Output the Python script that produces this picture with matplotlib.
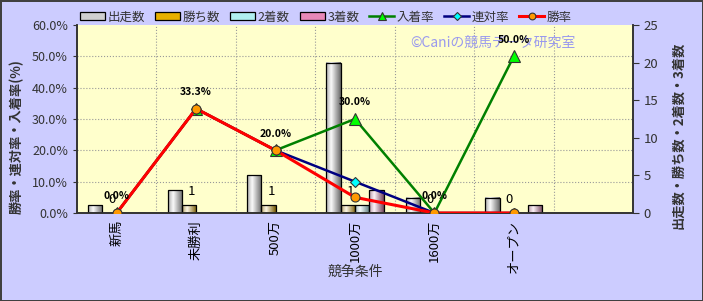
import numpy as np
import matplotlib
matplotlib.use('Agg')
import matplotlib.pyplot as plt
from matplotlib.colors import to_rgb
from matplotlib.lines import Line2D
from matplotlib.patches import Patch

plt.rcParams['font.family'] = ['Noto Sans CJK JP', 'DejaVu Sans']

# data
cats = ['新馬', '未勝利', '500万', '1000万', '1600万', 'オープン']
runs = [1, 3, 5, 20, 2, 2]
wins = [0, 1, 1, 1, 0, 0]
seconds = [0, 0, 0, 1, 0, 0]
thirds = [0, 0, 0, 3, 0, 1]
win_rate = [0.0, 33.3, 20.0, 5.0, 0.0, 0.0]
rentai_rate = [0.0, 33.3, 20.0, 10.0, 0.0, 0.0]
place_rate = [0.0, 33.3, 20.0, 30.0, 0.0, 50.0]


def shade(ax, bars, col):
    # cylinder-like horizontal gradient inside each bar
    base = np.array(to_rgb(col))
    t = np.linspace(0, 1, 64)
    k = np.clip(1 - np.abs(t - 0.35) / 0.65, 0, 1)
    dark = base * 0.5
    light = base + (1 - base) * 0.9
    grad = dark[None, :] * (1 - k[:, None]) + light[None, :] * k[:, None]
    for b in bars:
        h = b.get_height()
        if h <= 0:
            continue
        x0, y0 = b.get_xy()
        ax.imshow(grad[None, :, :], extent=[x0, x0 + b.get_width(), y0, y0 + h],
                  aspect='auto', zorder=2.5, interpolation='bilinear')


fig = plt.figure(figsize=(7.03, 3.01), dpi=100, facecolor='#CCCCFF',
                 edgecolor='#404040', linewidth=2)
ax = fig.add_axes([0.1095, 0.2924, 0.7909, 0.6246])
ax.set_facecolor('#FFFFCC')
ax2 = ax.twinx()

x = np.arange(len(cats))
w = 0.18
bar_series = [(runs, '出走数', '#D0D0D0'),
              (wins, '勝ち数', '#E8B000'),
              (seconds, '2着数', '#B0F0F0'),
              (thirds, '3着数', '#E888B8')]
handles = []
for i, (vals, name, col) in enumerate(bar_series):
    bars = ax.bar(x + (i - 1.5) * w, vals, w, facecolor='none',
                  edgecolor='black', lw=0.9, zorder=3)
    shade(ax, bars, col)
    handles.append(Patch(facecolor=col, edgecolor='black', lw=0.9, label=name))

# win-count labels
for xi, v in zip(x - 0.5 * w, wins):
    ax.annotate(str(v), (xi, v), xytext=(2, 10), textcoords='offset points',
                ha='center', va='center', fontsize=9.5, zorder=5)

ax.set_xlim(-0.5, 6.5)
ax.set_ylim(0, 25)
ax.set_yticks(range(0, 26, 5))
ax.yaxis.tick_right()
ax.set_xticks(x)
ax.set_xticklabels(cats, rotation=90, fontsize=9.5)
ax.tick_params(axis='x', length=0, pad=5)
ax.tick_params(axis='y', direction='out', length=4, labelsize=9.5,
               labelcolor='#333333', color='#333333')
ax.set_xticks(np.arange(0.5, 6.5, 1), minor=True)
ax.set_yticks(np.linspace(0, 25, 7), minor=True)
ax.tick_params(which='minor', length=0)
ax.grid(True, which='minor', color='#999999', ls=':', lw=0.8)
ax.set_axisbelow(True)

line_series = [(place_rate, '入着率', '#008000', '^', '#00FF00', 8, 1.8),
               (rentai_rate, '連対率', '#000080', 'D', '#00FFFF', 5, 1.8),
               (win_rate, '勝率', '#FF0000', 'o', '#FF9900', 6.5, 2.2)]
for vals, name, col, mk, mfc, ms, lw in line_series:
    ax2.plot(x, vals, color=col, lw=lw, marker=mk, mfc=mfc, mec='#333333',
             ms=ms, mew=0.8, zorder=4)
    handles.append(Line2D([], [], color=col, lw=lw, marker=mk, mfc=mfc,
                          mec='#333333', ms=ms * 0.75, mew=0.8, label=name))

for xi, v in zip(x, place_rate):
    ax2.annotate(f'{v:.1f}%', (xi, v), xytext=(0, 12), textcoords='offset points',
                 ha='center', va='center', fontsize=7.5, fontweight='bold', zorder=6)

ax2.set_ylim(0, 60)
ax2.set_yticks(range(0, 61, 10))
ax2.set_yticklabels([f'{v:.1f}%' for v in range(0, 61, 10)])
ax2.yaxis.tick_left()
ax2.tick_params(axis='y', direction='out', length=3, labelsize=9,
                labelcolor='#333333', color='#333333')

for a in (ax, ax2):
    a.spines['top'].set_visible(False)
    for s in ('left', 'right', 'bottom'):
        a.spines[s].set_color('#333333')
        a.spines[s].set_linewidth(1.2)

ax.text(0.748, 0.905, '©Caniの競馬データ研究室', transform=ax.transAxes,
        ha='center', va='center', fontsize=10, color='#9999EE', zorder=1)

fig.text(17 / 703, 1 - 137 / 301, '勝率・連対率・入着率(%)', rotation=90,
         ha='center', va='center', fontsize=9.5, fontweight='bold', color='#333333')
fig.text(678 / 703, 1 - 135 / 301, '出走数・勝ち数・2着数・3着数', rotation=90,
         ha='center', va='center', fontsize=9.5, fontweight='bold', color='#333333')
fig.text(355 / 703, 1 - 272 / 301, '競争条件', ha='center', va='center',
         fontsize=10, color='#333333')

fig.legend(handles=handles, loc='center', bbox_to_anchor=(326 / 703, 1 - 17 / 301),
           ncol=7, frameon=False, fontsize=9, handlelength=2.0, handleheight=0.55,
           columnspacing=0.8, handletextpad=0.2, labelcolor='#333333')

fig.savefig('out.png', dpi=100, facecolor=fig.get_facecolor(),
            edgecolor=fig.get_edgecolor())
